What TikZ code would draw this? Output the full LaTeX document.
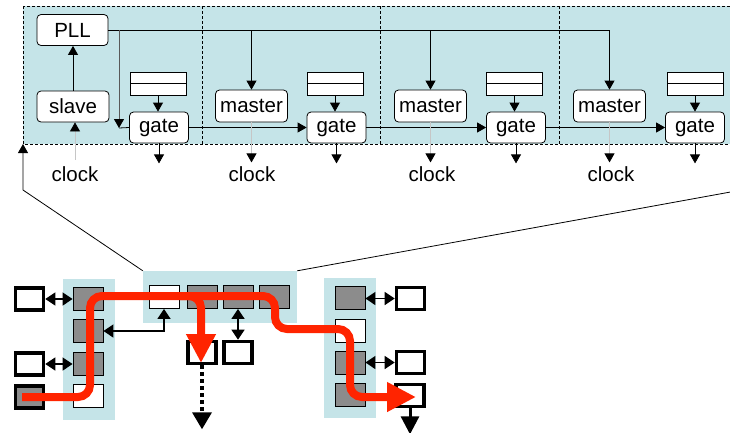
\documentclass[tikz,border=0pt]{standalone}
\usepackage{fontspec}
\setmainfont{Liberation Sans}
\usetikzlibrary{arrows.meta}
\definecolor{panel}{RGB}{197,228,232}
\definecolor{boxgray}{RGB}{140,140,140}
\definecolor{flow}{RGB}{255,36,0}
\begin{document}
\begin{tikzpicture}[x=1pt,y=-1pt,
  lbl/.style={font=\fontsize{20.5}{24}\selectfont},
  blk/.style={draw, fill=white, rounded corners=4pt, lbl, inner sep=0pt, line width=0.8pt},
  gatebox/.style={blk, minimum width=59pt, minimum height=31pt},
  masterbox/.style={blk, minimum width=72pt, minimum height=32pt},
  reg/.style={draw, fill=white, minimum width=56pt, minimum height=23pt, inner sep=0pt, line width=0.8pt,
    path picture={\draw[line width=0.8pt] (path picture bounding box.west) -- (path picture bounding box.east);}},
  arr/.style={-{Triangle[width=10pt,length=9pt]}, line width=0.8pt},
  clk/.style={draw=gray!45, line width=0.8pt, -{Triangle[width=10pt,length=9pt,color=black]}},
  graywire/.style={draw=black!65, line width=0.8pt, -{Triangle[width=10pt,length=9pt,color=black]}},
  divider/.style={line width=0.8pt, dash pattern=on 3pt off 2pt},
  sq/.style={draw, line width=0.8pt, minimum width=30pt, minimum height=23pt, inner sep=0pt},
  gsq/.style={sq, fill=boxgray},
  wsq/.style={sq, fill=white},
  xbox/.style={draw, line width=3.6pt, fill=white, minimum width=28pt, minimum height=22pt, inner sep=0pt},
  pnl/.style={fill=panel, inner sep=0pt},
  dbl/.style={{Triangle[width=13pt,length=10pt]}-{Triangle[width=13pt,length=10pt]}, line width=1.5pt},
  flowline/.style={draw=flow, line width=8pt, rounded corners=12pt},
  flowarr/.style={flowline, -{Triangle[width=28pt,length=29pt]}}
]
\useasboundingbox (0,0) rectangle (730,432);

% ---------- top panel ----------
\path[fill=panel, draw, divider] (23,6) rectangle (736,144);
\foreach \x in {202,380,559} \draw[divider] (\x,6) -- (\x,144);

\node[blk, minimum width=71pt, minimum height=31pt] (pll) at (72.5,30) {PLL};
\node[blk, minimum width=72pt, minimum height=31pt] (slave) at (73,106.5) {slave};

\node[gatebox] (g1) at (159,127.5) {gate};
\node[gatebox] (g2) at (336.5,127.5) {gate};
\node[gatebox] (g3) at (516,127.5) {gate};
\node[gatebox] (g4) at (695,127.5) {gate};

\node[masterbox] (ma1) at (251.5,106) {master};
\node[masterbox] (ma2) at (430.5,106) {master};
\node[masterbox] (ma3) at (609.5,106) {master};

\node[reg] (r1) at (158,83.5) {};
\node[reg] (r2) at (335,83.5) {};
\node[reg] (r3) at (514.5,83.5) {};
\node[reg] (r4) at (695,83.5) {};

\node[lbl] (c1) at (75,174) {clock};
\node[lbl] (c2) at (252,174) {clock};
\node[lbl] (c3) at (432,174) {clock};
\node[lbl] (c4) at (611,174) {clock};

% PLL distribution
\draw[arr] (pll.east) -| (ma3.north);
\draw[arr] (ma1.north |- pll.east) -- (ma1.north);
\draw[arr] (ma2.north |- pll.east) -- (ma2.north);
\coordinate (bend) at (119,128);
\draw[graywire] (pll.east -| bend) -- (bend);
\draw[line width=0.8pt] (bend) -- (g1.west);
\draw[arr] (slave.north) -- (pll.south -| slave.north);

% registers to gates
\foreach \i in {1,2,3,4} \draw[arr] (r\i.south) -- (r\i.south |- g\i.north);
% gate chain
\draw[arr] (g1.east) -- (g2.west);
\draw[arr] (g2.east) -- (g3.west);
\draw[arr] (g3.east) -- (g4.west);
% gate outputs
\foreach \i in {1,2,3,4} \draw[arr] (g\i.south) -- ++(0,20);
% clocks
\draw[clk] (c1.north) ++(0,-3) -- (slave.south -| c1.north);
\draw[clk] (ma1.south) -- ++(0,40);
\draw[clk] (ma2.south) -- ++(0,40);
\draw[clk] (ma3.south) -- ++(0,40);

% ---------- bottom ----------
\node[pnl, minimum width=154pt, minimum height=52pt] (mp) at (220,297) {};
\node[pnl, minimum width=52pt, minimum height=141pt] (lp) at (89,349.5) {};
\node[pnl, minimum width=52pt, minimum height=140pt] (rp) at (350,348) {};

% zoom lines
\draw[arr] (mp.north west) -- (23,190) -- (23,144);
\draw[line width=0.8pt] (mp.north east) -- (736,191);

\node[wsq] (m1) at (164,297) {};
\node[gsq] (m2) at (202,297) {};
\node[gsq] (m3) at (238,297) {};
\node[gsq] (m4) at (274,297) {};

\node[gsq] (l1) at (88,299) {};
\node[gsq] (l2) at (88,331) {};
\node[gsq] (l3) at (88,363.5) {};
\node[wsq] (l4) at (88,395.5) {};

\node[gsq] (q1) at (350,298) {};
\node[wsq] (q2) at (350,330.5) {};
\node[gsq] (q3) at (350,362.5) {};
\node[gsq] (q4) at (350,394.5) {};

\node[xbox] (e1) at (29.5,299) {};
\node[xbox] (e2) at (29.5,364) {};
\node[xbox, fill=boxgray] (e3) at (29.5,397) {};

\node[xbox] (f1) at (410.5,298.5) {};
\node[xbox] (f2) at (410.5,362.5) {};
\node[xbox] (f3) at (410,395.5) {};

\node[xbox] (xa) at (202,352.5) {};
\node[xbox] (xb) at (238,352.5) {};

\draw[dbl] (e1.east) -- (l1.west);
\draw[dbl] (e2.east) -- (e2.east -| l3.west);
\draw[dbl] (f1.west) -- (f1.west -| q1.east);
\draw[dbl] (f2.west) -- (q3.east);
\draw[dbl] (m3.south) -- (xb.north);
\draw[dbl] (m1.south) |- (l2.east);

\draw[line width=3.5pt, dash pattern=on 4pt off 3pt, -{Triangle[width=19pt,length=17pt]}] (xa.south) -- ++(0,64);
\draw[line width=3pt, -{Triangle[width=18pt,length=18pt]}] (f3.south) -- ++(0,26);

% red flow
\draw[flowarr] (22,397) -- (90,397) -- (90,296) -- (275,296) -- (275,329) -- (350,329) -- (350,397) -- (416,397);
\draw[flowarr] (180,296) -- (201,296) -- (201,363);
\end{tikzpicture}
\end{document}
